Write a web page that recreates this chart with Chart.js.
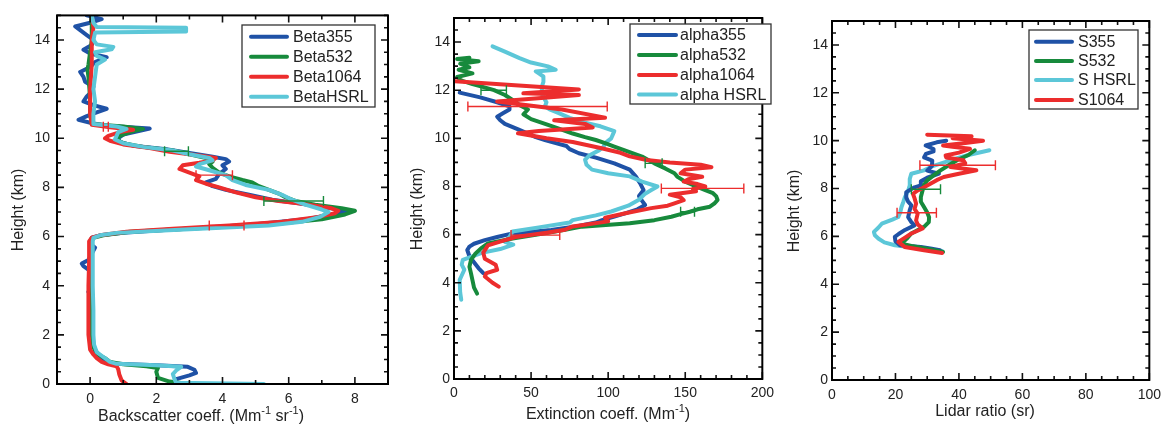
<!DOCTYPE html>
<html>
<head>
<meta charset="utf-8">
<script src="https://cdn.jsdelivr.net/npm/chart.js@4.4.1/dist/chart.umd.min.js"></script>
<style>
  html, body { margin: 0; padding: 0; background: #fff; }
  #wrap { position: relative; width: 1168px; height: 426px; overflow: hidden; }
  #wrap canvas { position: absolute; top: 0; }
</style>
</head>
<body>
<div id="wrap">
  <canvas id="c1" width="390" height="426" style="left:0"></canvas>
  <canvas id="c2" width="390" height="426" style="left:390px"></canvas>
  <canvas id="c3" width="388" height="426" style="left:780px"></canvas>
</div>
<script>
// ---- panel 1 : backscatter (x = value, y = height in km) ----
const beta355H = [0.0, 0.2, 0.35, 0.45, 0.58, 0.7, 0.76, 0.82, 0.95, 1.1, 1.3, 1.6, 2.0, 2.6, 3.1, 3.6, 3.75, 3.9, 4.3, 4.6, 4.8, 4.9, 5.05, 5.3, 5.55, 5.65, 5.8, 5.95, 6.05, 6.15, 6.25, 6.35, 6.5, 6.7, 6.9, 7.05, 7.2, 7.35, 7.5, 7.7, 7.9, 8.05, 8.2, 8.35, 8.55, 8.75, 8.9, 9.05, 9.15, 9.25, 9.4, 9.55, 9.7, 9.85, 10.0, 10.15, 10.3, 10.4, 10.5, 10.6, 10.75, 10.9, 11.05, 11.2, 11.35, 11.5, 11.7, 11.9, 12.1, 12.3, 12.5, 12.7, 12.9, 13.1, 13.3, 13.45, 13.6, 13.8, 14.0, 14.2, 14.4, 14.55, 14.7, 14.85, 15.0];
const beta355 = [2.5, 2.6, 3.0, 3.2, 3.15, 2.95, 2.0, 0.8, 0.45, 0.25, 0.15, 0.1, 0.08, 0.05, 0.08, 0.05, -0.05, 0.05, 0.05, 0.0, -0.2, -0.25, -0.05, 0.05, 0.15, 0.05, 0.0, 0.05, 0.3, 1.0, 2.0, 3.3, 5.0, 6.5, 7.3, 7.8, 7.0, 6.3, 5.5, 4.8, 4.1, 3.7, 3.5, 3.8, 3.9, 4.1, 4.0, 4.2, 4.1, 3.7, 3.0, 2.3, 1.3, 0.9, 0.85, 1.0, 1.5, 1.8, 0.6, 0.1, -0.35, -0.1, 0.2, 0.5, 0.1, -0.2, -0.1, 0.05, 0.1, -0.15, -0.2, -0.3, 0.0, 0.15, 0.5, 0.0, -0.2, 0.05, 0.1, -0.1, -0.3, -0.45, 0.0, 0.35, -0.1];

const beta532H = [0.0, 0.1, 0.25, 0.5, 0.65, 0.72, 0.8, 0.9, 1.05, 1.2, 1.5, 2.0, 3.0, 4.0, 5.0, 5.8, 5.95, 6.05, 6.2, 6.35, 6.5, 6.7, 6.9, 7.05, 7.15, 7.3, 7.45, 7.6, 7.75, 7.9, 8.05, 8.2, 8.3, 8.45, 8.6, 8.8, 8.95, 9.05, 9.2, 9.35, 9.5, 9.65, 9.8, 9.95, 10.1, 10.25, 10.38, 10.48, 10.58, 11.0, 11.5, 12.0, 12.5, 12.8, 13.0, 13.5, 14.0, 14.5, 15.0];
const beta532 = [3.0, 2.4, 2.05, 2.0, 2.05, 1.7, 1.0, 0.6, 0.45, 0.25, 0.1, 0.05, 0.02, 0.02, 0.02, 0.02, 0.1, 0.4, 1.2, 3.4, 5.5, 7.0, 7.7, 8.0, 7.6, 6.8, 6.2, 5.9, 5.7, 5.4, 5.1, 4.9, 4.6, 4.2, 3.9, 3.7, 3.6, 3.7, 3.5, 3.0, 2.5, 1.6, 1.0, 0.8, 0.9, 1.2, 1.6, 1.0, 0.05, 0.0, 0.0, -0.02, -0.05, -0.08, -0.05, 0.0, 0.05, 0.05, 0.05];

const beta1064H = [0.0, 0.15, 0.4, 0.6, 0.72, 0.8, 0.9, 1.05, 1.2, 1.4, 2.0, 3.0, 4.0, 5.0, 5.8, 5.95, 6.05, 6.2, 6.32, 6.45, 6.6, 6.8, 6.95, 7.05, 7.15, 7.3, 7.45, 7.6, 7.8, 8.0, 8.15, 8.3, 8.45, 8.6, 8.75, 8.9, 9.0, 9.1, 9.2, 9.3, 9.45, 9.6, 9.75, 9.9, 10.0, 10.1, 10.25, 10.35, 10.45, 10.55, 11.0, 12.0, 13.0, 14.0, 14.5, 15.0];
const beta1064 = [1.1, 0.95, 0.88, 0.85, 0.8, 0.55, 0.35, 0.2, 0.1, 0.0, -0.05, -0.05, -0.05, -0.03, -0.03, 0.05, 0.3, 1.1, 2.5, 4.2, 5.8, 6.9, 7.4, 7.5, 7.3, 6.6, 5.7, 5.0, 4.4, 3.9, 3.5, 3.2, 3.3, 3.0, 2.7, 2.8, 3.3, 3.7, 3.8, 3.3, 2.4, 1.8, 1.0, 0.6, 0.45, 0.55, 0.9, 1.3, 0.6, 0.05, 0.0, 0.0, 0.05, 0.05, 0.1, 0.05];

const betaHsrlH = [0.0, 0.05, 0.2, 0.4, 0.55, 0.7, 0.76, 0.82, 0.9, 1.0, 1.15, 1.3, 1.6, 2.0, 3.0, 4.0, 5.0, 5.8, 5.95, 6.05, 6.15, 6.3, 6.45, 6.6, 6.8, 7.0, 7.1, 7.3, 7.5, 7.7, 7.9, 8.1, 8.3, 8.5, 8.7, 8.85, 8.95, 9.1, 9.2, 9.35, 9.5, 9.65, 9.8, 9.95, 10.1, 10.25, 10.38, 10.48, 10.58, 11.0, 11.5, 12.0, 12.5, 13.0, 13.2, 13.35, 13.5, 13.62, 13.72, 13.82, 14.0, 14.3, 14.34, 14.5, 14.53, 14.7, 15.0];
const betaHsrl = [5.25, 2.6, 2.55, 2.5, 2.6, 2.75, 2.0, 0.8, 0.6, 0.5, 0.35, 0.2, 0.12, 0.1, 0.1, 0.08, 0.08, 0.08, 0.1, 0.3, 0.8, 3.0, 5.4, 6.4, 6.95, 7.2, 7.0, 6.5, 6.1, 5.8, 5.4, 4.7, 4.3, 4.1, 3.6, 3.2, 3.3, 3.7, 3.6, 3.0, 2.5, 1.6, 1.0, 0.75, 0.8, 0.85, 1.1, 0.8, 0.1, 0.1, 0.15, 0.1, 0.15, 0.2, 0.45, 0.2, 0.15, 0.65, 0.7, 0.2, 0.1, 0.15, 2.9, 2.9, 0.2, 0.1, 0.05];

// error bars: height, low, high
const beta1064ErrH = [10.47, 8.5, 6.45];
const beta1064ErrLo = [0.4, 3.2, 3.6];
const beta1064ErrHi = [0.55, 4.3, 4.65];
const beta532ErrH = [9.47, 7.45];
const beta532ErrLo = [2.25, 5.25];
const beta532ErrHi = [2.97, 7.05];

// ---- panel 2 : extinction ----
const alpha355H = [4.4, 4.6, 4.87, 5.1, 5.36, 5.5, 5.62, 5.77, 5.9, 6.05, 6.19, 6.35, 6.5, 6.6, 6.75, 6.9, 7.05, 7.23, 7.4, 7.6, 7.85, 8.1, 8.41, 8.7, 8.96, 9.2, 9.38, 9.55, 9.68, 9.8, 9.93, 10.05, 10.2, 10.36, 10.6, 10.75, 10.9, 11.05, 11.2, 11.33, 11.5, 11.7, 11.9];
const alpha355 = [19, 16, 12.7, 10, 8.6, 10, 13, 20, 28, 38, 63, 80, 92, 96, 104, 112, 119, 124, 122, 120, 123, 121, 118, 114, 104, 92, 81, 75, 73, 66, 59, 53, 48, 42, 33, 30, 28, 32, 36, 36, 28, 17, 3.7];

const alpha532H = [3.55, 3.8, 4.1, 4.4, 4.66, 4.95, 5.22, 5.45, 5.63, 5.84, 6.05, 6.2, 6.33, 6.47, 6.6, 6.74, 6.85, 6.95, 7.05, 7.16, 7.3, 7.44, 7.6, 7.72, 7.85, 8.0, 8.2, 8.4, 8.55, 8.75, 8.96, 9.1, 9.24, 9.45, 9.66, 9.8, 9.93, 10.05, 10.2, 10.4, 10.56, 10.8, 11.0, 11.2, 11.4, 11.6, 11.8, 12.0, 12.15, 12.25, 12.4, 12.55, 12.7, 12.85, 12.95, 13.1, 13.2, 13.3, 13.35];
const alpha532 = [15, 13, 12, 11, 10, 11, 14, 18, 22, 38, 59, 72, 83, 114, 130, 141, 147, 153, 158, 166, 169, 171, 170, 168, 163, 157, 150, 145, 143, 137, 130, 126, 122, 113, 104, 98, 92, 85, 77, 68, 61, 50, 45, 48, 42, 38, 33, 26, 18, 12, 5, 2, 12, 3, 10, 4, 16, 2, 10];

const alpha1064H = [3.84, 4.0, 4.26, 4.4, 4.54, 4.75, 5.0, 5.25, 5.55, 5.75, 5.9, 6.08, 6.2, 6.34, 6.55, 6.7, 6.9, 7.1, 7.2, 7.3, 7.43, 7.55, 7.66, 7.8, 7.9, 8.0, 8.1, 8.2, 8.3, 8.4, 8.55, 8.7, 8.8, 8.9, 9.0, 9.1, 9.25, 9.4, 9.6, 9.85, 10.0, 10.21, 10.3, 10.45, 10.6, 10.75, 10.86, 11.2, 11.53, 11.8, 11.87, 12.03, 12.37];
const alpha1064 = [29, 25, 20, 21, 28, 27, 20, 19, 22, 32, 40, 60, 72, 77, 100, 98, 112, 128, 138.6, 143, 149, 147, 140, 157, 155, 163, 158, 149, 152, 161, 147, 150, 167, 160, 140, 125, 114, 108, 95, 77, 60, 41.5, 55, 90, 85, 65, 98, 70, 28, 81, 45, 81, 0.6];

const alphaHsrlH = [3.29, 3.6, 4.12, 4.3, 4.54, 4.75, 4.95, 5.1, 5.24, 5.4, 5.58, 5.7, 5.9, 6.13, 6.3, 6.5, 6.6, 6.8, 6.96, 7.2, 7.45, 7.7, 7.85, 8.0, 8.2, 8.42, 8.55, 8.7, 8.9, 9.11, 9.3, 9.5, 9.65, 9.8, 10.0, 10.3, 10.5, 10.65, 10.85, 11.05, 11.2, 11.33, 11.5, 11.6, 11.85, 12.15, 12.35, 12.57, 12.7, 12.78, 12.85, 12.99, 13.15, 13.33, 13.6, 13.82];
const alphaHsrl = [4.7, 4, 3.7, 5, 6.7, 5, 5.7, 12, 18, 30, 38.5, 33, 36, 38, 55, 75, 77, 92, 102, 113, 120, 124, 128, 132, 122, 114, 100, 89.5, 86, 85, 88, 94, 97, 98, 102, 104, 95, 85, 75, 68, 62, 59, 60, 59, 57, 57, 58, 58, 55, 53, 66, 61, 50, 42.5, 33, 25];

const alpha1064ErrH = [11.32, 7.92, 5.98];
const alpha1064ErrLo = [9, 134.5, 37];
const alpha1064ErrHi = [99.4, 188, 68.6];
const alpha532ErrH = [12.0, 8.96, 6.95];
const alpha532ErrLo = [17.5, 124, 147];
const alpha532ErrHi = [34, 135, 156];

// ---- panel 3 : lidar ratio ----
const s355H = [5.42, 5.5, 5.56, 5.63, 5.8, 5.98, 6.1, 6.27, 6.46, 6.6, 6.8, 7.1, 7.3, 7.45, 7.6, 7.85, 8.05, 8.13, 8.3, 8.45, 8.62, 8.75, 8.95, 9.17, 9.3, 9.45, 9.55, 9.65, 9.8, 9.93, 10.0];
const s355 = [34, 31, 28, 21.4, 20, 19.8, 21, 23, 26, 25, 24, 24.5, 25, 24, 23.5, 23.4, 26, 28, 28, 30, 33.7, 30, 31.5, 31.6, 29, 29.6, 32, 32, 29.5, 33, 36];

const s532H = [5.35, 5.49, 5.6, 5.7, 5.9, 6.12, 6.4, 6.6, 6.8, 7.0, 7.23, 7.45, 7.65, 7.9, 8.15, 8.34, 8.55, 8.76, 8.95, 9.18, 9.4, 9.6];
const s532 = [35, 30, 25, 21.9, 23.5, 25, 29, 30.5, 30.6, 30, 29, 28, 28, 28.5, 29, 30, 32, 34.2, 36.5, 39.4, 43, 45];

const sHsrlH = [5.39, 5.49, 5.63, 5.75, 5.9, 6.05, 6.19, 6.35, 6.53, 6.7, 6.81, 7.0, 7.23, 7.45, 7.65, 7.9, 8.13, 8.4, 8.62, 8.76, 8.95, 9.18, 9.4, 9.6];
const sHsrl = [34.7, 28, 19.8, 16.5, 14.7, 13.5, 13.2, 14.5, 15.7, 19, 20.9, 21.5, 21.9, 22.5, 23, 24, 24.5, 24.5, 25, 29, 32, 37.3, 43, 49.6];

const s1064H = [5.31, 5.42, 5.56, 5.77, 5.95, 6.12, 6.33, 6.5, 6.67, 6.95, 7.15, 7.37, 7.6, 7.78, 7.92, 8.05, 8.2, 8.35, 8.48, 8.62, 8.76, 8.9, 9.05, 9.18, 9.3, 9.38, 9.5, 9.66, 9.75, 9.8, 9.9, 10.0, 10.1, 10.18, 10.25];
const s1064 = [34.7, 29, 22.9, 20.9, 23, 25, 28.6, 27, 26.5, 27, 26, 26.5, 26, 25.5, 27, 29, 31, 33, 35.2, 40, 45.5, 37.3, 42, 41.4, 36, 35.8, 40, 43.5, 38, 35, 42, 47.6, 38, 44, 30];

const s1064ErrH = [8.97, 6.99];
const s1064ErrLo = [27.7, 20.5];
const s1064ErrHi = [51.5, 32.9];
const s532ErrH = [7.97];
const s532ErrLo = [25];
const s532ErrHi = [34.2];

// ---- ticks ----
const heightTicks = [0, 2, 4, 6, 8, 10, 12, 14];
const betaTicks = [0, 2, 4, 6, 8];
const alphaTicks = [0, 50, 100, 150, 200];
const ratioTicks = [0, 20, 40, 60, 80, 100];

const FONT = '"Liberation Sans", Arial, Helvetica, sans-serif';
const BLUE = '#1f52a6', GREEN = '#178a3c', RED = '#ec2d2d', CYAN = '#5cc7d8';

function profile(label, hs, xs, color, order, err) {
    return {
        label,
        data: hs.map((h, i) => ({ x: xs[i], y: h })),
        borderColor: color,
        backgroundColor: color,
        showLine: true,
        borderWidth: 4,
        pointRadius: 0,
        pointHoverRadius: 0,
        tension: 0,
        borderJoinStyle: 'round',
        borderCapStyle: 'round',
        order,
        err
    };
}

// text with raised parts, parts = [[text, isSup], ...]
function drawRich(ctx, parts, cx, base, size) {
    const big = size + 'px ' + FONT, small = Math.round(size * 0.66) + 'px ' + FONT;
    let w = 0;
    parts.forEach(p => { ctx.font = p[1] ? small : big; w += ctx.measureText(p[0]).width; });
    let x = cx - w / 2;
    ctx.textAlign = 'left';
    ctx.textBaseline = 'alphabetic';
    parts.forEach(p => {
        ctx.font = p[1] ? small : big;
        ctx.fillText(p[0], x, p[1] ? base - size * 0.42 : base);
        x += ctx.measureText(p[0]).width;
    });
}

const framePlugin = {
    id: 'frame',
    afterDatasetsDraw(chart) {
        const { ctx, scales: { x, y } } = chart;
        chart.data.datasets.forEach(ds => {
            if (!ds.err) return;
            ctx.save();
            ctx.strokeStyle = ds.borderColor;
            ctx.lineWidth = 1.4;
            ds.err.h.forEach((h, i) => {
                const py = y.getPixelForValue(h);
                const x1 = x.getPixelForValue(ds.err.lo[i]);
                const x2 = x.getPixelForValue(ds.err.hi[i]);
                ctx.beginPath();
                ctx.moveTo(x1, py); ctx.lineTo(x2, py);
                ctx.moveTo(x1, py - 5); ctx.lineTo(x1, py + 5);
                ctx.moveTo(x2, py - 5); ctx.lineTo(x2, py + 5);
                ctx.stroke();
            });
            ctx.restore();
        });
    },
    afterDraw(chart, args, opts) {
        const { ctx, chartArea: a, scales: { x, y } } = chart;
        ctx.save();
        // inward ticks on all sides
        ctx.strokeStyle = '#111';
        ctx.lineWidth = 1.6;
        ctx.beginPath();
        const nx = Math.round((x.max - x.min) / opts.xMinor);
        for (let i = 0; i <= nx; i++) {
            const v = x.min + i * opts.xMinor;
            const px = x.getPixelForValue(v);
            const L = opts.xMajor.some(m => Math.abs(m - v) < 1e-6) ? 7 : 4;
            ctx.moveTo(px, a.bottom); ctx.lineTo(px, a.bottom - L);
            ctx.moveTo(px, a.top); ctx.lineTo(px, a.top + L);
        }
        const ny = Math.round((y.max - y.min) / opts.yMinor);
        for (let i = 0; i <= ny; i++) {
            const v = y.min + i * opts.yMinor;
            const py = y.getPixelForValue(v);
            const L = heightTicks.some(m => Math.abs(m - v) < 1e-6) ? 7 : 4;
            ctx.moveTo(a.left, py); ctx.lineTo(a.left + L, py);
            ctx.moveTo(a.right, py); ctx.lineTo(a.right - L, py);
        }
        ctx.stroke();
        // frame
        ctx.strokeStyle = '#000';
        ctx.lineWidth = 2;
        ctx.strokeRect(a.left, a.top, a.right - a.left, a.bottom - a.top);

        // axis titles
        ctx.fillStyle = '#222';
        drawRich(ctx, opts.xTitle, opts.xTitleAt[0], opts.xTitleAt[1], 16);
        ctx.save();
        ctx.translate(opts.yTitleAt[0], opts.yTitleAt[1]);
        ctx.rotate(-Math.PI / 2);
        ctx.font = '16px ' + FONT;
        ctx.textAlign = 'center';
        ctx.textBaseline = 'middle';
        ctx.fillText('Height (km)', 0, 0);
        ctx.restore();

        // legend
        const lg = opts.legend;
        ctx.fillStyle = '#fff';
        ctx.fillRect(lg.box[0], lg.box[1], lg.box[2] - lg.box[0], lg.box[3] - lg.box[1]);
        ctx.strokeStyle = '#333';
        ctx.lineWidth = 1.3;
        ctx.strokeRect(lg.box[0], lg.box[1], lg.box[2] - lg.box[0], lg.box[3] - lg.box[1]);
        ctx.font = '16px ' + FONT;
        ctx.textAlign = 'left';
        ctx.textBaseline = 'middle';
        ctx.lineCap = 'round';
        chart.data.datasets.forEach((ds, i) => {
            const ry = lg.rows[i];
            ctx.strokeStyle = ds.borderColor;
            ctx.lineWidth = 4;
            ctx.beginPath();
            ctx.moveTo(lg.line[0], ry); ctx.lineTo(lg.line[1], ry);
            ctx.stroke();
            ctx.fillStyle = '#222';
            ctx.fillText(ds.label, lg.textX, ry + 1);
        });
        ctx.restore();
    }
};

function makeChart(id, p) {
    return new Chart(document.getElementById(id), {
        type: 'scatter',
        data: { datasets: p.datasets },
        options: {
            responsive: false,
            animation: false,
            events: [],
            layout: { padding: { top: p.top, right: p.right, left: 0, bottom: 0 } },
            plugins: {
                legend: { display: false },
                tooltip: { enabled: false },
                frame: p.frame
            },
            scales: {
                x: {
                    type: 'linear',
                    min: p.xMin, max: p.xMax,
                    grid: { display: false, drawTicks: false },
                    border: { display: false },
                    afterBuildTicks: s => { s.ticks = p.xTicks.map(v => ({ value: v })); },
                    afterFit: s => { s.height = p.xHeight; },
                    ticks: { autoSkip: false, maxRotation: 0, padding: p.xPad, color: '#222', font: { family: FONT, size: 14 } }
                },
                y: {
                    type: 'linear',
                    min: 0, max: 15,
                    grid: { display: false, drawTicks: false },
                    border: { display: false },
                    afterBuildTicks: s => { s.ticks = heightTicks.map(v => ({ value: v })); },
                    afterFit: s => { s.width = p.yWidth; },
                    ticks: { autoSkip: false, padding: p.yPad, color: '#222', font: { family: FONT, size: 14 } }
                }
            }
        },
        plugins: [framePlugin]
    });
}

makeChart('c1', {
    datasets: [
        profile('Beta355', beta355H, beta355, BLUE, 3),
        profile('Beta532', beta532H, beta532, GREEN, 2, { h: beta532ErrH, lo: beta532ErrLo, hi: beta532ErrHi }),
        profile('Beta1064', beta1064H, beta1064, RED, 1, { h: beta1064ErrH, lo: beta1064ErrLo, hi: beta1064ErrHi }),
        profile('BetaHSRL', betaHsrlH, betaHsrl, CYAN, 0)
    ],
    xMin: -1, xMax: 9, xTicks: betaTicks,
    top: 14, right: 2, xHeight: 42, yWidth: 57, xPad: 7, yPad: 7,
    frame: {
        xMinor: 1, xMajor: betaTicks, yMinor: 0.5,
        xTitle: [['Backscatter coeff. (Mm', 0], ['-1', 1], [' sr', 0], ['-1', 1], [')', 0]],
        xTitleAt: [201, 421], yTitleAt: [19, 210],
        legend: { box: [242, 25, 375, 107], line: [251, 287], textX: 293, rows: [36.7, 56.7, 76.7, 96.7] }
    }
});

makeChart('c2', {
    datasets: [
        profile('alpha355', alpha355H, alpha355, BLUE, 3),
        profile('alpha532', alpha532H, alpha532, GREEN, 1, { h: alpha532ErrH, lo: alpha532ErrLo, hi: alpha532ErrHi }),
        profile('alpha1064', alpha1064H, alpha1064, RED, 0, { h: alpha1064ErrH, lo: alpha1064ErrLo, hi: alpha1064ErrHi }),
        profile('alpha HSRL', alphaHsrlH, alphaHsrl, CYAN, 2)
    ],
    xMin: 0, xMax: 200, xTicks: alphaTicks,
    top: 18, right: 1, xHeight: 47, yWidth: 64, xPad: 6, yPad: 4,
    frame: {
        xMinor: 10, xMajor: alphaTicks, yMinor: 0.5,
        xTitle: [['Extinction coeff. (Mm', 0], ['-1', 1], [')', 0]],
        xTitleAt: [608 - 390, 419], yTitleAt: [417.5 - 390, 209],
        legend: { box: [240, 24, 381, 104], line: [249, 286], textX: 290, rows: [35, 55, 75, 94.5] }
    }
});

makeChart('c3', {
    datasets: [
        profile('S355', s355H, s355, BLUE, 2),
        profile('S532', s532H, s532, GREEN, 1, { h: s532ErrH, lo: s532ErrLo, hi: s532ErrHi }),
        profile('S HSRL', sHsrlH, sHsrl, CYAN, 3),
        profile('S1064', s1064H, s1064, RED, 0, { h: s1064ErrH, lo: s1064ErrLo, hi: s1064ErrHi })
    ],
    xMin: 0, xMax: 100, xTicks: ratioTicks,
    top: 21, right: 11, xHeight: 46, yWidth: 52, xPad: 7, yPad: 4,
    frame: {
        xMinor: 5, xMajor: ratioTicks, yMinor: 0.5,
        xTitle: [['Lidar ratio (sr)', 0]],
        xTitleAt: [985 - 780, 416], yTitleAt: [795 - 780, 211],
        legend: { box: [249, 30, 358, 109], line: [256, 292], textX: 298, rows: [41.7, 61, 80, 100] }
    }
});
</script>
</body>
</html>
